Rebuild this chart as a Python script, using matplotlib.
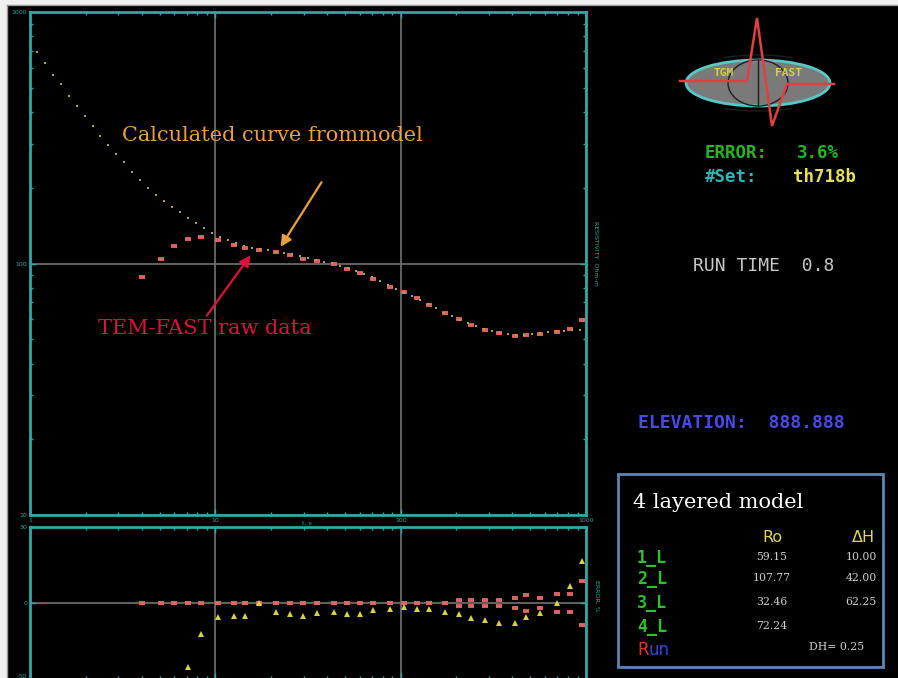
import numpy as np
import matplotlib
matplotlib.use("Agg")
import matplotlib.pyplot as plt
from matplotlib.patches import Ellipse, Rectangle, Arc
from matplotlib.ticker import NullFormatter

# ---- measured sounding: time gates and apparent resistivity (Ohm-m) ----
raw_time = [4.02, 5.09, 5.99, 7.12, 8.37, 10.3, 12.6, 14.5, 17.2, 21.3,
            25.3, 29.7, 35.4, 43.7, 51.4, 60.4, 71.0, 87.7, 104, 123,
            142, 174, 207, 240, 285, 340, 414, 475, 565, 698, 821, 953]
raw_rho = [88.4, 104.2, 117.4, 125.1, 127.5, 124.0, 118.5, 115.0, 113.0, 111.0,
           108.1, 104.2, 102.3, 99.5, 95.1, 91.7, 86.8, 80.7, 77.0, 72.9,
           68.4, 63.6, 60.2, 56.9, 54.4, 52.9, 51.5, 52.0, 52.5, 53.4, 54.9, 59.6]

# ---- response of the 4-layer model ----
model_time = [1.09, 1.205, 1.331, 1.470, 1.623, 1.793, 1.981, 2.188, 2.386, 2.636,
              2.912, 3.216, 3.552, 3.924, 4.334, 4.786, 5.287, 5.838, 6.449, 7.123,
              7.868, 8.690, 9.598, 10.60, 11.71, 12.93, 14.29, 15.78, 17.43, 19.25,
              21.26, 23.48, 25.94, 28.65, 31.64, 34.95, 38.60, 42.64, 47.10, 52.02,
              57.46, 63.46, 70.10, 77.43, 85.51, 94.45, 104.3, 115.2, 127.3, 140.6,
              155.3, 171.5, 189.4, 209.2, 231.1, 255.3, 281.9, 311.4, 343.9, 379.9,
              419.6, 463.5, 511.9, 565.4, 624.5, 689.8, 761.9, 841.4, 929.2]
model_rho = [693, 627, 562, 517, 463, 423, 386, 352, 321, 296,
             272, 253, 231, 215, 200, 187, 177, 168, 160, 152,
             145, 138, 132, 128, 124, 121, 117, 115, 114, 113,
             111, 110, 109, 107, 105, 103, 101, 100.5, 97.7, 96.0,
             93.4, 90.9, 88.4, 85.2, 82.1, 79.2, 76.3, 74.3, 71.6, 69.0,
             66.5, 63.6, 61.8, 59.6, 58.0, 56.4, 54.9, 53.9, 52.9, 52.5,
             52.0, 52.0, 52.5, 52.9, 53.4, 53.9, 53.9, 54.4, 54.4]

# ---- fit misfit (%) per gate and noise level of each gate (%) ----
misfit = [np.nan, np.nan, np.nan, -25.3, -12.2, -5.5, -5.1, -5.1, 0.0, -3.6,
          -4.3, -5.1, -3.9, -3.6, -4.3, -4.3, -2.8, -2.4, -1.6, -2.4,
          -2.4, -3.6, -4.3, -5.9, -6.7, -7.9, -7.9, -5.5, -3.9, 0.0,
          6.7, 16.6]
noise = [0, 0, 0, 0, 0, 0, 0, 0, 0, 0,
         0, 0, 0, 0, 0, 0, 0, 0, 0, 0,
         0, 0, 1.2, 1.2, 1.2, 1.2, 2.0, 3.0, 2.0, 3.4,
         3.6, 8.7]

# ---- layered model table ----
layer_names = ["1_L", "2_L", "3_L", "4_L"]
layer_rho = ["59.15", "107.77", "32.46", "72.24"]
layer_dh = ["10.00", "42.00", "62.25", ""]

x_ticks = [1, 10, 100, 1000]
x_tick_labels = ["1", "10", "100", "1000"]
y_ticks = [10, 100, 1000]
y_tick_labels = ["10", "100", "1000"]

W, H = 898, 678
TEAL = "#2fa7a5"
GRID = "#6a6a6a"
RAW_C = "#e06262"
MODEL_C = "#aca444"
MIS_C = "#d8d244"

fig = plt.figure(figsize=(W / 100, H / 100), dpi=100, facecolor="black")


def frame(x0, y0, x1, y1):
    return [x0 / W, 1 - y1 / H, (x1 - x0) / W, (y1 - y0) / H]


def style_axes(a):
    a.set_facecolor("black")
    for s in a.spines.values():
        s.set_color(TEAL)
        s.set_linewidth(2)
    a.tick_params(which="both", direction="in", colors=TEAL, labelcolor=TEAL,
                  top=True, right=True, labelsize=4.5, pad=2)
    a.tick_params(which="major", length=4, width=1)
    a.tick_params(which="minor", length=2.5, width=1)


# ---------------- main resistivity panel ----------------
ax = fig.add_axes(frame(30, 12, 586, 515))
style_axes(ax)
ax.set_xscale("log")
ax.set_yscale("log")
ax.set_xlim(1, 1000)
ax.set_ylim(10, 1000)
ax.set_xticks(x_ticks, x_tick_labels)
ax.set_yticks(y_ticks, y_tick_labels)
ax.xaxis.set_minor_formatter(NullFormatter())
ax.yaxis.set_minor_formatter(NullFormatter())
ax.grid(which="major", color=GRID, lw=1.3, zorder=0)

ax.plot(raw_time, raw_rho, ls="none", marker="_", ms=5, mew=2.8,
        color=RAW_C, zorder=3)
ax.plot(model_time, model_rho, ls="none", marker="s", ms=2.0, mew=0,
        color=MODEL_C, zorder=4)

ax.text(31, -0.012, "t, s", transform=ax.get_xaxis_transform(), color=TEAL,
        fontsize=4.5, ha="center", va="top")
ax.text(1.012, 0.52, "RESISTIVITY  Ohm-m", transform=ax.transAxes, color=TEAL,
        fontsize=4.5, rotation=270, ha="left", va="center")

ax.text(3.14, 324, "Calculated curve frommodel", color="#e8a040",
        fontsize=15, family="DejaVu Serif", ha="left", va="center", zorder=6)
ax.annotate("", xy=(22.1, 114), xytext=(38.1, 215),
            arrowprops=dict(arrowstyle="-|>", color="#e8a040", lw=1.6,
                            mutation_scale=16), zorder=6)
ax.text(2.33, 54.9, "TEM-FAST raw data", color="#e0103c",
        fontsize=15, family="DejaVu Serif", ha="left", va="center", zorder=6)
ax.annotate("", xy=(15.8, 110), xytext=(8.8, 60.7),
            arrowprops=dict(arrowstyle="-|>", color="#e0103c", lw=1.6,
                            mutation_scale=16), zorder=6)

# ---------------- misfit panel ----------------
ax2 = fig.add_axes(frame(30, 527, 586, 679))
style_axes(ax2)
ax2.set_xscale("log")
ax2.set_xlim(1, 1000)
ax2.set_ylim(-30, 30)
ax2.set_xticks(x_ticks, [""] * len(x_ticks))
ax2.xaxis.set_minor_formatter(NullFormatter())
ax2.set_yticks([-30, 0, 30], ["-30", "0", "30"])
ax2.get_yticklabels()[0].set_va("bottom")
ax2.grid(which="major", axis="x", color=GRID, lw=1.3, zorder=0)
ax2.axhline(0, color=GRID, lw=1.3, zorder=0)

noise_arr = np.array(noise)
ax2.plot(raw_time, noise_arr, ls="none", marker="_", ms=5, mew=2.8,
         color=RAW_C, zorder=3)
ax2.plot(raw_time, -noise_arr, ls="none", marker="_", ms=5, mew=2.8,
         color=RAW_C, zorder=3)
ax2.plot(raw_time, misfit, ls="none", marker="^", ms=4.5, mew=0,
         color=MIS_C, zorder=4)
ax2.text(1.014, 0.55, "ERROR, %", transform=ax2.transAxes, color=TEAL,
         fontsize=4.5, rotation=270, ha="left", va="center")

# ---------------- side panel and frame ----------------
deco = fig.add_axes([0, 0, 1, 1])
deco.set_xlim(0, W)
deco.set_ylim(H, 0)
deco.axis("off")
deco.set_zorder(10)

deco.add_patch(Rectangle((0, 0), 6.5, H, color="#f0f0f0", lw=0))
deco.add_patch(Rectangle((0, 0), W, 5, color="#f0f0f0", lw=0))
deco.plot([6.8, 6.8], [5, H], color="#9a9a9a", lw=1)
deco.plot([6.8, W], [5.3, 5.3], color="#9a9a9a", lw=1)

# logo
deco.add_patch(Ellipse((758, 83), 144, 46, fc="#7a7a7a", ec="#55c8c8", lw=2))
deco.add_patch(Arc((758, 83), 60, 46, theta1=0, theta2=360, color="#1e1e1e", lw=1))
deco.add_patch(Arc((758, 70), 120, 30, theta1=200, theta2=340, color="#1e1e1e", lw=1))
deco.add_patch(Arc((758, 96), 120, 30, theta1=20, theta2=160, color="#1e1e1e", lw=1))
deco.plot([758, 758], [60, 106], color="#1e1e1e", lw=1)
deco.text(724, 73, "TGM", color="#d8d048", fontsize=8, weight="bold",
          family="DejaVu Sans Mono", ha="center", va="center")
deco.text(789, 73, "FAST", color="#d8d048", fontsize=8, weight="bold",
          family="DejaVu Sans Mono", ha="center", va="center")
deco.plot([680, 747, 757, 772, 787, 834], [81, 81, 18, 126, 84, 84],
          color="#e04040", lw=1.8, solid_joinstyle="miter")

mono = dict(family="DejaVu Sans Mono", va="center", ha="left")
deco.text(705, 153, "ERROR:", color="#22b822", fontsize=12.5, weight="bold", **mono)
deco.text(797, 153, "3.6%", color="#22b822", fontsize=12.5, weight="bold", **mono)
deco.text(705, 177, "#Set:", color="#30b4b4", fontsize=12.5, weight="bold", **mono)
deco.text(793, 177, "th718b", color="#e6e060", fontsize=12.5, weight="bold", **mono)
deco.text(693, 266, "RUN TIME  0.8", color="#c8c8c8", fontsize=13, **mono)
deco.text(638, 423, "ELEVATION:  888.888", color="#4a4ae8", fontsize=13,
          weight="bold", **mono)

# model box
deco.add_patch(Rectangle((618, 474), 265, 193, fill=False, ec="#5a86b8", lw=2))
deco.text(633, 503, "4 layered model", color="white", fontsize=15,
          family="DejaVu Serif", ha="left", va="center")
deco.text(772, 538, "Ro", color="#e0d850", fontsize=11.5, ha="center", va="center")
deco.text(863, 538, "\u0394H", color="#e0d850", fontsize=11.5, ha="center", va="center")
row_y = [558, 579, 603, 627]
for name, r, dh, yy in zip(layer_names, layer_rho, layer_dh, row_y):
    deco.text(637, yy, name, color="#30c030", fontsize=12, weight="bold", **mono)
    deco.text(772, yy - 1, r, color="#d0d0d0", fontsize=7.8,
              family="DejaVu Serif", ha="center", va="center")
    if dh:
        deco.text(861, yy - 1, dh, color="#d0d0d0", fontsize=7.8,
                  family="DejaVu Serif", ha="center", va="center")
deco.text(637, 650, "R", color="#e03030", fontsize=12, ha="left", va="center")
deco.text(649, 650, "un", color="#3548e0", fontsize=12, ha="left", va="center")
deco.text(837, 647, "DH= 0.25", color="#d0d0d0", fontsize=7.8,
          family="DejaVu Serif", ha="center", va="center")

fig.savefig("out.png", dpi=100, facecolor="black")
